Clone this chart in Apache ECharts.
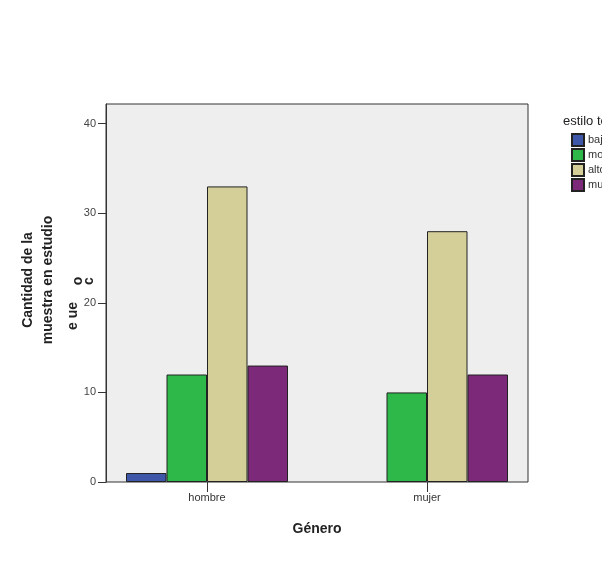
<!DOCTYPE html>
<html>
<head>
<meta charset="utf-8">
<script src="https://cdn.jsdelivr.net/npm/echarts@6/dist/echarts.min.js"></script>
<style>
html, body { margin: 0; padding: 0; background: #fff; }
#main { width: 602px; height: 570px; }
</style>
</head>
<body>
<div id="main"></div>
<script>
// datos del grafico
var categorias = ['hombre', 'mujer'];
var nombresSeries = ['bajo', 'moderado', 'alto', 'muy alto'];
var bajo = [1, '-'];
var moderado = [12, 10];
var alto = [33, 28];
var muyAlto = [13, 12];
var colores = ['#3f57a8', '#2eb84a', '#d4cf98', '#7b2978'];

var valores = [bajo, moderado, alto, muyAlto];
var series = [];
for (var i = 0; i < nombresSeries.length; i++) {
    series.push({
        name: nombresSeries[i],
        type: 'bar',
        xAxisIndex: 1,
        yAxisIndex: 1,
        barWidth: 40.5,
        barGap: '0%',
        data: valores[i],
        itemStyle: { color: colores[i], borderColor: '#222', borderWidth: 1 }
    });
}

var fuente = 'Liberation Sans, Arial, sans-serif';
var myChart = echarts.init(document.getElementById('main'));
myChart.setOption({
    animation: false,
    textStyle: { fontFamily: fuente },
    title: {
        text: 'estilo terapéutico',
        left: 558,
        top: 110,
        textStyle: { fontSize: 13, fontWeight: 'normal', color: '#222', fontFamily: fuente }
    },
    legend: {
        orient: 'vertical',
        left: 566,
        top: 128,
        itemWidth: 12,
        itemHeight: 12,
        itemGap: 1,
        icon: 'rect',
        data: nombresSeries,
        textStyle: { fontSize: 11, color: '#333', lineHeight: 13, padding: [0, 0, 0, -1] }
    },
    grid: [
        // marco del area de dibujo
        { left: 106, top: 104, width: 422, height: 378, show: true, backgroundColor: '#eeeeee', borderColor: '#333', borderWidth: 1 },
        // area de las barras
        { left: 97, top: 104, width: 440, height: 378 }
    ],
    xAxis: [
        { gridIndex: 0, type: 'value', show: false, min: 0, max: 1 },
        {
            gridIndex: 1,
            type: 'category',
            data: categorias,
            axisLine: { show: false },
            axisTick: { show: true, alignWithLabel: true, length: 10, lineStyle: { color: '#333' } },
            axisLabel: { fontSize: 11, color: '#333', margin: 10 },
            name: 'Género',
            nameLocation: 'middle',
            nameGap: 40,
            nameTextStyle: { fontSize: 14, fontWeight: 'bold', color: '#222' }
        }
    ],
    yAxis: [
        {
            gridIndex: 0,
            type: 'value',
            min: 0,
            max: 42.2,
            interval: 10,
            axisLine: { show: true, lineStyle: { color: '#333' } },
            axisTick: { show: true, inside: false, length: 8, lineStyle: { color: '#333' } },
            axisLabel: { fontSize: 11, color: '#444', margin: 10, showMaxLabel: false },
            splitLine: { show: false }
        },
        { gridIndex: 1, type: 'value', min: 0, max: 42.2, show: false }
    ],
    graphic: [
        {
            type: 'text',
            x: 38, y: 280,
            rotation: Math.PI / 2,
            style: {
                text: 'Cantidad de la\nmuestra en estudio',
                font: 'bold 14px ' + fuente,
                fill: '#222',
                align: 'center',
                verticalAlign: 'middle',
                lineHeight: 20
            }
        },
        // restos de texto superpuestos
        {
            type: 'text',
            x: 73, y: 316,
            rotation: Math.PI / 2,
            style: { text: 'e ue', font: 'bold 14px ' + fuente, fill: '#222', align: 'center', verticalAlign: 'middle' }
        },
        {
            type: 'text',
            x: 78, y: 281,
            rotation: Math.PI / 2,
            style: { text: 'o', font: 'bold 14px ' + fuente, fill: '#222', align: 'center', verticalAlign: 'middle' }
        },
        {
            type: 'text',
            x: 89, y: 281,
            rotation: Math.PI / 2,
            style: { text: 'c', font: 'bold 14px ' + fuente, fill: '#222', align: 'center', verticalAlign: 'middle' }
        }
    ],
    series: series
});
</script>
</body>
</html>
